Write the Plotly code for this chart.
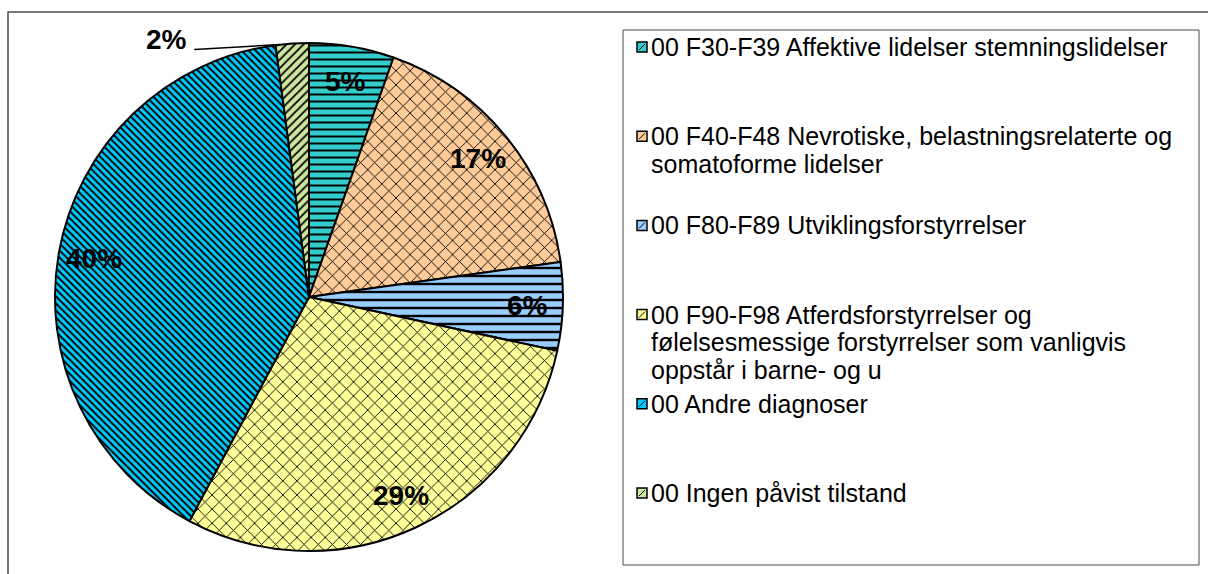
import textwrap
import numpy as np
import plotly.graph_objects as go

# ---- data -------------------------------------------------------------
labels = [
    "00 F30-F39 Affektive lidelser stemningslidelser",
    "00 F40-F48 Nevrotiske, belastningsrelaterte og somatoforme lidelser",
    "00 F80-F89 Utviklingsforstyrrelser",
    "00 F90-F98 Atferdsforstyrrelser og følelsesmessige forstyrrelser som vanligvis oppstår i barne- og u",
    "00 Andre diagnoser",
    "00 Ingen påvist tilstand",
]
values = [5.4, 17.4, 5.6, 29.4, 40.1, 2.1]

# ---- styling ----------------------------------------------------------
colors = ["#33CCCC", "#FFCC99", "#99CCFF", "#FFFF99", "#00CCFF", "#CCE6A0"]
pat_shapes = ["-", "x", "-", "x", "\\", "/"]
pat_sizes = [7, 10, 8, 10, 5, 6]
pat_solid = [0.28, 0.17, 0.3, 0.17, 0.4, 0.3]

W, H = 1208, 574
CX, CY, R = 309, 297, 254          # pie centre / radius in pixels
LABEL_FONT = dict(family="Liberation Sans, Arial", size=28, color="black")
LEG_FONT = dict(family="Liberation Sans, Arial", size=25, color="black")


def px(x):
    return x / W


def py(y):
    return 1 - y / H


fig = go.Figure()
fig.add_trace(go.Pie(
    labels=labels,
    values=values,
    sort=False,
    direction="clockwise",
    rotation=0,
    textinfo="none",
    hoverinfo="label+percent",
    showlegend=False,
    domain=dict(x=[px(CX - R), px(CX + R)], y=[py(CY + R), py(CY - R)]),
    marker=dict(
        colors=colors,
        line=dict(color="black", width=2),
        pattern=dict(shape=pat_shapes, size=pat_sizes, solidity=pat_solid,
                     fgcolor="black", bgcolor=colors, fillmode="replace"),
    ),
))

# ---- percentage labels ------------------------------------------------
vals = np.array(values, dtype=float)
frac = vals / vals.sum()
mid = np.cumsum(frac) - frac / 2
theta = 2 * np.pi * mid

annotations = []
shapes = []
for i, (f, t) in enumerate(zip(frac, theta)):
    txt = f"<b>{round(f * 100)}%</b>"
    if f >= 0.04:
        r = 0.86 * R
        x = CX + r * np.sin(t)
        y = CY - r * np.cos(t)
        annotations.append(dict(x=px(x), y=py(y), xref="paper", yref="paper",
                                text=txt, showarrow=False, font=LABEL_FONT,
                                xanchor="center", yanchor="middle"))
    else:
        # small slice: label outside with a leader line
        ex = CX + R * np.sin(t)
        ey = CY - R * np.cos(t)
        shapes.append(dict(type="line", xref="paper", yref="paper",
                           x0=px(ex - 12), y0=py(ey + 1), x1=px(ex - 98),
                           y1=py(ey + 6),
                           line=dict(color="black", width=1.5)))
        annotations.append(dict(x=px(ex - 126), y=py(ey - 4), xref="paper",
                                yref="paper", text=txt, showarrow=False,
                                font=LABEL_FONT, xanchor="center",
                                yanchor="middle"))

# ---- legend (drawn by hand) ------------------------------------------
LEG_X0, LEG_Y0, LEG_X1, LEG_Y1 = 623, 30, 1199, 565
FIRST_LINE, STEP, LINE_H = 47, 89.2, 27.6
MARK_X, MARK_S, TEXT_X = 637, 10, 649

shapes.append(dict(type="rect", xref="paper", yref="paper",
                   x0=px(LEG_X0), y0=py(LEG_Y1), x1=px(LEG_X1), y1=py(LEG_Y0),
                   line=dict(color="#4d4d4d", width=1)))

for i, (lab, col) in enumerate(zip(labels, colors)):
    lines = textwrap.wrap(lab, width=47, break_on_hyphens=False)
    y_first = FIRST_LINE + i * STEP
    for k, line in enumerate(lines):
        annotations.append(dict(x=px(TEXT_X), y=py(y_first + k * LINE_H),
                                xref="paper", yref="paper", text=line,
                                showarrow=False, font=LEG_FONT, align="left",
                                xanchor="left", yanchor="middle"))
    shapes.append(dict(type="rect", xref="paper", yref="paper",
                       x0=px(MARK_X), x1=px(MARK_X + MARK_S),
                       y0=py(y_first + MARK_S / 2), y1=py(y_first - MARK_S / 2),
                       fillcolor=col, line=dict(color="black", width=1.5)))
    shapes.append(dict(type="line", xref="paper", yref="paper",
                       x0=px(MARK_X + 2), x1=px(MARK_X + MARK_S - 2),
                       y0=py(y_first + MARK_S / 2 - 2),
                       y1=py(y_first - MARK_S / 2 + 2),
                       line=dict(color="black", width=1)))

# outer chart frame
shapes.append(dict(type="rect", xref="paper", yref="paper",
                   x0=px(8), y0=py(H + 30), x1=px(W + 30), y1=py(12),
                   line=dict(color="#4d4d4d", width=1.5)))

fig.update_layout(
    width=W, height=H,
    margin=dict(l=0, r=0, t=0, b=0),
    paper_bgcolor="white",
    plot_bgcolor="white",
    annotations=annotations,
    shapes=shapes,
)

fig.write_html("out.html")
